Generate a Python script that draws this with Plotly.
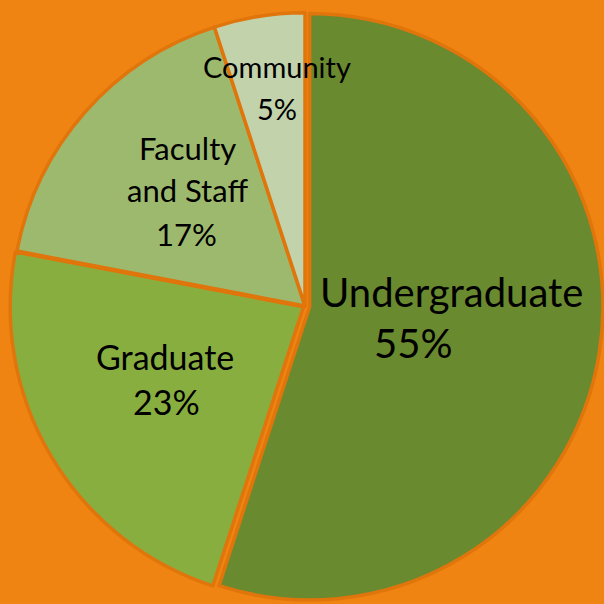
import plotly.graph_objects as go

labels = ["Undergraduate", "Graduate", "Faculty and Staff", "Community"]
label_lines = [["Undergraduate"], ["Graduate"], ["Faculty", "and Staff"], ["Community"]]
values = [55, 23, 17, 5]
colors = ["#6A8A2F", "#89AE40", "#9DB96E", "#C2D3AC"]
pulls = [0.016, 0.006, 0, 0]

W = H = 604
cx, cy, r = 305, 306, 298

fig = go.Figure(go.Pie(
    labels=labels, values=values, sort=False, direction="clockwise", rotation=0,
    marker=dict(colors=colors, line=dict(color="#E0750B", width=3.5)),
    pull=pulls, textinfo="none", hoverinfo="label+percent", showlegend=False,
    domain=dict(x=[(cx - r) / W, (cx + r) / W], y=[1 - (cy + r) / H, 1 - (cy - r) / H]),
))

# per-line label placement (pixel centres) and font sizes
line_pos = [
    [(451, 292), (413, 343)],
    [(165, 356), (166, 401)],
    [(187, 148), (187, 190), (186, 234)],
    [(277, 67), (277, 109)],
]
label_size = [40, 34, 31, 29]
total = sum(values)
for lines, v, positions, fs in zip(label_lines, values, line_pos, label_size):
    texts = lines + [f"{round(100 * v / total)}%"]
    for t, (px, py) in zip(texts, positions):
        fig.add_annotation(
            x=px / W, y=1 - py / H, xref="paper", yref="paper",
            text=t, showarrow=False,
            font=dict(family="Lato, Open Sans, sans-serif", size=fs, color="#000000"),
            align="center", xanchor="center", yanchor="middle",
        )

fig.update_layout(
    width=W, height=H, margin=dict(l=0, r=0, t=0, b=0),
    paper_bgcolor="#F08412", plot_bgcolor="#F08412",
)
fig.write_html(
    "out.html",
    config={"displayModeBar": False},
    post_script="document.body.style.margin='0';document.body.style.background='#F08412';",
)
